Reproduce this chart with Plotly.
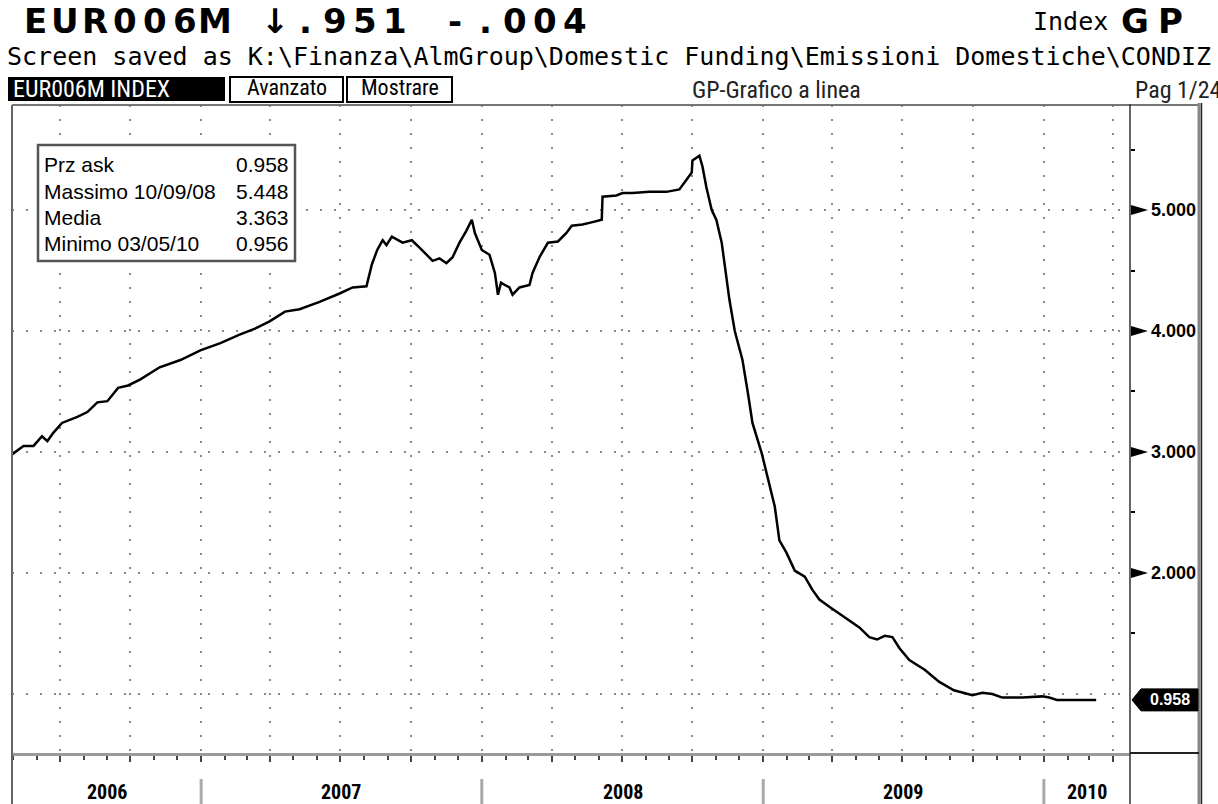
import datetime as dt
import plotly.graph_objects as go

W, H = 1218, 804

# ---------------- data ----------------
DATES = [
    '2006-04-30', '2006-05-15', '2006-05-28', '2006-06-08', '2006-06-15', '2006-06-23', '2006-07-04',
    '2006-07-24', '2006-08-06', '2006-08-19', '2006-09-01', '2006-09-15', '2006-09-28', '2006-10-14',
    '2006-11-08', '2006-12-05', '2006-12-31',
    '2007-01-26', '2007-02-20', '2007-03-12', '2007-03-31', '2007-04-20', '2007-05-09', '2007-06-04',
    '2007-06-30', '2007-07-17', '2007-08-04', '2007-08-11', '2007-08-18', '2007-08-25', '2007-08-30',
    '2007-09-06', '2007-09-20', '2007-10-02', '2007-10-12', '2007-10-21', '2007-10-29', '2007-11-07',
    '2007-11-16', '2007-11-24', '2007-12-03', '2007-12-12', '2007-12-19', '2007-12-23',
    '2008-01-01', '2008-01-11', '2008-01-18', '2008-01-22', '2008-01-26', '2008-01-31', '2008-02-06',
    '2008-02-10', '2008-02-19', '2008-03-03', '2008-03-07', '2008-03-16', '2008-03-27', '2008-04-09',
    '2008-04-20', '2008-04-27', '2008-05-11', '2008-05-24', '2008-06-05', '2008-06-06', '2008-06-24',
    '2008-07-02', '2008-07-15', '2008-08-06', '2008-08-28', '2008-09-14', '2008-09-23', '2008-09-30',
    '2008-10-01', '2008-10-10', '2008-10-14', '2008-10-19', '2008-10-26', '2008-11-01', '2008-11-08',
    '2008-11-14', '2008-11-18', '2008-11-25', '2008-12-05', '2008-12-12', '2008-12-18', '2008-12-30',
    '2009-01-07', '2009-01-16', '2009-01-22', '2009-01-31', '2009-02-11', '2009-02-24', '2009-03-06',
    '2009-03-15', '2009-03-28', '2009-04-17', '2009-05-06', '2009-05-19', '2009-05-29', '2009-06-08',
    '2009-06-18', '2009-06-27', '2009-07-10', '2009-07-30', '2009-08-18', '2009-09-06', '2009-09-30',
    '2009-10-13', '2009-10-26', '2009-11-08', '2009-12-04', '2009-12-30',
    '2010-01-08', '2010-01-18', '2010-02-16', '2010-03-10',
]
VALUES = [
    2.98, 3.05, 3.05, 3.13, 3.09, 3.16, 3.24, 3.29, 3.33, 3.41, 3.42, 3.53, 3.55, 3.60, 3.70, 3.76, 3.84,
    3.90, 3.97, 4.02, 4.08, 4.16, 4.18, 4.24, 4.31, 4.36, 4.37, 4.55, 4.67, 4.75, 4.71, 4.78, 4.73, 4.75,
    4.69, 4.63, 4.58, 4.60, 4.56, 4.61, 4.73, 4.83, 4.92, 4.81,
    4.67, 4.63, 4.48, 4.30, 4.40, 4.38, 4.36, 4.30, 4.36, 4.38, 4.48, 4.61, 4.73, 4.74, 4.81, 4.87, 4.88,
    4.90, 4.92, 5.11, 5.12, 5.14, 5.14, 5.15, 5.15, 5.17, 5.25, 5.31, 5.41, 5.448, 5.36, 5.19, 5.00, 4.92,
    4.73, 4.42, 4.26, 4.00, 3.76, 3.49, 3.24, 2.99,
    2.79, 2.55, 2.27, 2.17, 2.02, 1.97, 1.86, 1.78, 1.72, 1.63, 1.55, 1.47, 1.45, 1.48, 1.47, 1.38, 1.28,
    1.20, 1.10, 1.03, 0.99, 1.01, 1.00, 0.97, 0.97, 0.98,
    0.97, 0.95, 0.95, 0.951,
]

X_RANGE = ['2006-04-30', '2010-04-23']
Y_RANGE = [0.512, 5.868]
Y_TICKS = [1, 2, 3, 4, 5]
Y_TICK_TEXT = ['', '2.000', '3.000', '4.000', '5.000']
Y_ARROW_TICKS = [2, 3, 4, 5]
Y_MINOR = [1.5, 2.5, 3.5, 4.5, 5.5]
YEARS = [2006, 2007, 2008, 2009, 2010]

STAT_LABELS = ['Prz ask', 'Massimo 10/09/08', 'Media', 'Minimo 03/05/10']
STAT_VALUES = ['0.958', '5.448', '3.363', '0.956']
LAST_LABEL = '0.958'

TITLE = 'EUR006M \u2193.951 -.004'
TITLE_RIGHT = 'GP'
PATH_TEXT = 'Screen saved as K:\\Finanza\\AlmGroup\\Domestic Funding\\Emissioni Domestiche\\CONDIZ'
TAB_LABEL = 'EUR006M INDEX'
BUTTONS = ['Avanzato', 'Mostrare']
CHART_NAME = 'GP-Grafico a linea'
PAGE = 'Pag 1/24'


def px(x):
    return x / W


def py(y):
    return 1 - y / H


NARROW = 'Liberation Sans Narrow, Roboto Condensed, Liberation Sans, Arial, sans-serif'
SANS = 'Liberation Sans, Arial, sans-serif'
MONO = 'DejaVu Sans Mono, monospace'
WIDE = 'DejaVu Sans, Verdana, sans-serif'

fig = go.Figure()
fig.add_trace(go.Scatter(x=DATES, y=VALUES, mode='lines',
                         line=dict(color='black', width=2.5), hoverinfo='skip'))

annotations = []
shapes = []

# ---- header ----
for i, ch in enumerate(TITLE):
    if ch == ' ':
        continue
    annotations.append(dict(text='<b>%s</b>' % ch, x=px(35 + 30 * i), y=py(21), xref='paper', yref='paper',
                            xanchor='center', yanchor='middle', showarrow=False,
                            font=dict(family=WIDE, size=34, color='black')))
annotations.append(dict(text='Index', x=px(1031), y=py(21), xref='paper', yref='paper', xanchor='left',
                        yanchor='middle', showarrow=False, font=dict(family=MONO, size=25, color='black')))
for i, ch in enumerate(TITLE_RIGHT):
    annotations.append(dict(text='<b>%s</b>' % ch, x=px(1135 + 35 * i), y=py(21), xref='paper', yref='paper',
                            xanchor='center', yanchor='middle', showarrow=False,
                            font=dict(family=WIDE, size=34, color='black')))
annotations.append(dict(text=PATH_TEXT, x=px(5), y=py(56), xref='paper', yref='paper', xanchor='left',
                        yanchor='middle', showarrow=False, font=dict(family=MONO, size=25, color='black')))

# tab row
shapes.append(dict(type='rect', xref='paper', yref='paper', x0=px(8), x1=px(225), y0=py(101), y1=py(77),
                   fillcolor='black', line=dict(width=0), layer='above'))
annotations.append(dict(text=TAB_LABEL, x=px(11), y=py(89), xref='paper', yref='paper', xanchor='left',
                        yanchor='middle', showarrow=False, font=dict(family=NARROW, size=24, color='white')))
for (x0, x1), lab in zip([(230, 343), (347, 452)], BUTTONS):
    shapes.append(dict(type='rect', xref='paper', yref='paper', x0=px(x0), x1=px(x1), y0=py(102), y1=py(77),
                       fillcolor='white', line=dict(color='black', width=2), layer='above'))
    annotations.append(dict(text=lab, x=px((x0 + x1) / 2), y=py(88), xref='paper', yref='paper',
                            xanchor='center', yanchor='middle', showarrow=False,
                            font=dict(family=NARROW, size=22, color='black')))
annotations.append(dict(text=CHART_NAME, x=px(776), y=py(90), xref='paper', yref='paper', xanchor='center',
                        yanchor='middle', showarrow=False, font=dict(family=NARROW, size=24, color='#222')))
annotations.append(dict(text=PAGE, x=px(1133), y=py(90), xref='paper', yref='paper', xanchor='left',
                        yanchor='middle', showarrow=False, font=dict(family=NARROW, size=24, color='#222')))

# ---- frame ----
shapes += [
    dict(type='line', xref='paper', yref='paper', x0=px(12), x1=px(1200), y0=py(105), y1=py(105),
         line=dict(color='#777', width=2), layer='above'),
    dict(type='line', xref='paper', yref='paper', x0=px(12), x1=px(12), y0=py(105), y1=py(804),
         line=dict(color='#666', width=2), layer='above'),
    dict(type='line', xref='paper', yref='paper', x0=px(1130), x1=px(1130), y0=py(104), y1=py(804),
         line=dict(color='#333', width=1.5), layer='above'),
    dict(type='line', xref='paper', yref='paper', x0=px(1199), x1=px(1199), y0=py(103), y1=py(804),
         line=dict(color='#888', width=3), layer='above'),
    dict(type='line', xref='paper', yref='paper', x0=px(1201.5), x1=px(1201.5), y0=py(103), y1=py(804),
         line=dict(color='#222', width=1.5), layer='above'),
    dict(type='line', xref='paper', yref='paper', x0=px(1130), x1=px(1199), y0=py(753), y1=py(753),
         line=dict(color='#222', width=2), layer='above'),
]

# y-axis arrows
for v in Y_ARROW_TICKS:
    shapes.append(dict(type='path', xref='paper', xsizemode='pixel', xanchor=px(1131),
                       yref='y', ysizemode='pixel', yanchor=v,
                       path='M0,-5 L0,5 L17,0 Z', fillcolor='black', line=dict(width=0), layer='above'))

# last value box
shapes.append(dict(type='path', xref='paper', xsizemode='pixel', xanchor=px(1130),
                   yref='y', ysizemode='pixel', yanchor=VALUES[-1],
                   path='M2,0 L11,-11 L68,-11 L68,11 L11,11 Z', fillcolor='black',
                   line=dict(color='black', width=1), layer='above'))
annotations.append(dict(text='<b>%s</b>' % LAST_LABEL, x=px(1170), y=VALUES[-1], xref='paper', yref='y',
                        xanchor='center', yanchor='middle', showarrow=False,
                        font=dict(family=SANS, size=16, color='white')))

# stats box
shapes.append(dict(type='rect', xref='paper', yref='paper', x0=px(38), x1=px(295), y0=py(261), y1=py(145),
                   fillcolor='white', line=dict(color='#555', width=2.5), layer='above'))
for i, (lab, val) in enumerate(zip(STAT_LABELS, STAT_VALUES)):
    yy = 165 + 26 * i
    annotations.append(dict(text=lab, x=px(42), y=py(yy), xref='paper', yref='paper', xanchor='left',
                            yanchor='middle', showarrow=False, font=dict(family=SANS, size=21, color='black')))
    annotations.append(dict(text=val, x=px(291), y=py(yy), xref='paper', yref='paper', xanchor='right',
                            yanchor='middle', showarrow=False, font=dict(family=SANS, size=21, color='black')))

# year labels and separators
r0 = dt.date.fromisoformat(X_RANGE[0])
r1 = dt.date.fromisoformat(X_RANGE[1])
for yr in YEARS:
    s = max(dt.date(yr, 1, 1), r0)
    e = min(dt.date(yr + 1, 1, 1), r1)
    mid = s + (e - s) / 2
    annotations.append(dict(text='<b>%d</b>' % yr, x=mid.isoformat(), y=py(792), xref='x', yref='paper',
                            xanchor='center', yanchor='middle', showarrow=False,
                            font=dict(family=NARROW, size=20, color='black')))
    if dt.date(yr, 1, 1) > r0:
        shapes.append(dict(type='line', xref='x', yref='paper', x0='%d-01-01' % yr, x1='%d-01-01' % yr,
                           y0=py(804), y1=py(779), line=dict(color='#aaa', width=3)))

fig.update_layout(
    width=W, height=H,
    margin=dict(l=0, r=0, t=0, b=0),
    paper_bgcolor='white', plot_bgcolor='white',
    showlegend=False, hovermode=False,
    xaxis=dict(domain=[px(12), px(1130)], range=X_RANGE, type='date',
               showgrid=True, gridcolor='#8a8a8a', gridwidth=2, griddash='2px,12px',
               dtick='M3', tick0='2006-01-01', ticks='outside', ticklen=6, tickwidth=2, tickcolor='#444',
               showticklabels=False, showline=True, linecolor='#9a9a9a', linewidth=3,
               minor=dict(dtick='M1', ticks='outside', ticklen=4, tickwidth=1.5, tickcolor='#444',
                          showgrid=False),
               zeroline=False, fixedrange=True),
    yaxis=dict(domain=[py(753), py(105)], range=Y_RANGE, side='right',
               tickvals=Y_TICKS, ticktext=Y_TICK_TEXT, ticks='', ticklabelstandoff=20,
               tickfont=dict(family=SANS, size=18, color='black', weight='bold'),
               showgrid=True, gridcolor='#8a8a8a', gridwidth=2, griddash='2px,12px',
               minor=dict(tickvals=Y_MINOR, ticks='outside', ticklen=4, tickwidth=1.5, tickcolor='black',
                          showgrid=False),
               showline=False, zeroline=False, fixedrange=True),
    annotations=annotations,
    shapes=shapes,
)

fig.write_html('out.html', config={'displayModeBar': False},
               post_script="document.body.style.margin='0';document.body.style.overflow='hidden';")
